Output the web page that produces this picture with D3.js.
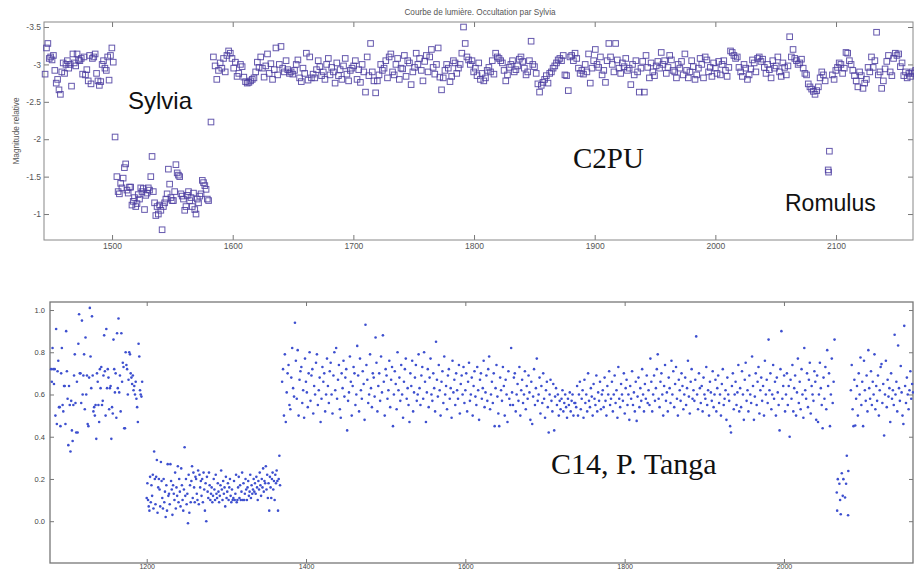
<!DOCTYPE html>
<html>
<head>
<meta charset="utf-8">
<script src="https://cdn.jsdelivr.net/npm/d3@7"></script>
<style>
  body { margin: 0; background: #fff; }
  svg { display: block; font-family: "Liberation Sans", Arial, sans-serif; }
</style>
</head>
<body>
<div id="chart"></div>
<script>
// ---- C2PU light curve (relative magnitude), frame numbers ----
var topTicksX = [1500, 1600, 1700, 1800, 1900, 2000, 2100];
var topTicksY = [-3.5, -3, -2.5, -2, -1.5, -1];

// before the occultation, frames 1444.5 .. 1501
var topMagA = [-2.87,-3.22,-3.28,-3.08,-3.1,-3.06,-3.12,-2.92,-2.75,-2.8,
  -2.66,-2.6,-2.9,-3.02,-2.88,-3.0,-3.05,-2.95,-3.0,-2.71,
  -3.14,-3.02,-2.98,-3.14,-3.06,-3.05,-3.08,-2.87,-3.1,-2.86,
  -2.93,-2.78,-3.12,-2.74,-3.08,-3.1,-3.14,-2.88,-2.78,-2.72,
  -2.77,-3.0,-3.05,-2.95,-2.92,-3.1,-2.79,-3.12,-3.22,-3.03];
// Sylvia occultation, frames 1504 .. 1580
var topMagB = [-1.5,-1.3,-1.27,-1.41,-1.35,-1.48,-1.62,-1.67,-1.32,-1.28,
  -1.36,-1.36,-1.12,-1.17,-1.22,-1.1,-1.14,-1.26,-1.2,-1.35,
  -1.3,-1.34,-1.06,-1.25,-1.28,-1.35,-1.32,-1.5,-1.77,-1.3,
  -1.15,-0.98,-1.1,-1.0,-1.12,-1.05,-0.79,-1.1,-1.15,-1.2,
  -1.27,-1.6,-1.4,-1.22,-1.18,-1.18,-1.3,-1.66,-1.55,-1.52,
  -1.5,-1.27,-1.24,-1.2,-1.05,-1.1,-1.25,-1.3,-1.18,-1.22,
  -1.1,-1.28,-1.06,-1.0,-1.2,-1.15,-1.24,-1.27,-1.45,-1.42,
  -1.38,-1.33,-1.2,-1.18];
// after the occultation, frames 1584 .. 2091
var topMagC = [
  -3.1,-2.98,-2.8,-2.92,-3.02,-2.95,-3.08,-2.9,-3.12,-3.18,-3.15,-3.08,-2.95,-3.03,-2.84,-2.88,-3.0,-2.97,-2.83,-2.77,
  -2.75,-2.76,-2.78,-2.8,-2.82,-2.9,-3.03,-2.96,-3.1,-2.95,-2.83,-2.98,-3.14,-2.88,-3.01,-2.8,-2.93,-3.22,-2.86,-3.0,
  -3.24,-2.95,-2.9,-3.05,-2.93,-2.88,-2.9,-2.87,-2.92,-3.0,-3.06,-2.82,-2.77,-2.95,-2.88,-3.15,-2.79,-3.1,-2.82,-2.87,
  -2.82,-2.93,-3.05,-2.97,-2.85,-2.9,-2.8,-3.0,-3.08,-2.86,-2.96,-2.9,-2.75,-3.02,-2.85,-2.93,-2.8,-2.98,-3.08,-2.87,-2.78,-2.92,-2.95,
  -2.98,-3.05,-2.8,-2.93,-2.76,-3.0,-2.9,-2.63,-3.1,-2.85,-3.28,-2.9,-2.78,-2.62,-2.78,-2.86,-3.0,-2.92,-2.95,-3.05,
  -2.82,-3.1,-3.14,-2.9,-2.86,-3.0,-3.08,-2.8,-2.95,-2.94,-3.12,-2.84,-3.05,-3.02,-2.73,-2.9,-2.96,-3.15,-3.0,-3.08,-2.92,-2.78,-3.04,
  -3.12,-2.9,-3.1,-3.2,-2.96,-2.87,-3.0,-3.22,-2.83,-2.66,-2.82,-2.92,-3.0,-2.95,-2.77,-2.84,-3.05,-3.02,-2.88,-2.95,
  -3.0,-3.15,-3.5,-3.28,-3.1,-3.06,-3.0,-3.05,-2.9,-2.95,-2.85,-3.02,-2.8,-2.88,-2.78,-2.82,-2.92,-2.96,-2.9,-3.05,-2.87,-3.15,-3.1,
  -3.08,-3.05,-3.02,-2.92,-2.78,-2.86,-2.96,-3.0,-3.05,-2.9,-2.93,-2.98,-3.07,-3.1,-3.04,-2.95,-2.86,-2.9,-3.05,-3.31,
  -3.0,-2.97,-2.88,-2.74,-2.63,-2.72,-2.76,-2.8,-2.85,-2.75,-2.88,-2.9,-2.95,-2.98,-3.02,-3.06,-3.08,-3.05,-3.12,-2.86,-2.85,-2.65,-3.1,
  -3.12,-3.05,-3.15,-3.08,-2.95,-2.88,-2.92,-2.87,-3.0,-2.9,-3.14,-2.75,-2.95,-3.05,-3.2,-3.0,-2.96,-3.1,-2.86,-2.92,
  -2.76,-3.05,-3.28,-3.1,-3.0,-2.9,-3.28,-3.06,-2.95,-2.88,-3.02,-2.97,-3.08,-2.92,-2.95,-2.73,-3.0,-2.86,-3.05,-2.9,-2.63,-2.95,-3.04,
  -2.63,-3.12,-2.96,-2.82,-3.02,-2.9,-2.85,-2.98,-3.04,-2.95,-3.16,-3.0,-3.05,-2.88,-2.96,-3.12,-3.06,-2.92,-2.9,-2.82,
  -3.0,-2.95,-3.04,-2.86,-3.14,-2.92,-2.82,-2.9,-3.05,-2.97,-2.8,-2.86,-2.95,-3.08,-3.0,-2.82,-3.1,-3.06,-2.9,-2.96,-2.84,-3.02,-2.95,
  -2.88,-3.04,-2.86,-3.0,-3.05,-2.92,-2.84,-2.96,-3.18,-3.16,-3.12,-3.08,-3.1,-2.96,-2.9,-2.84,-3.0,-2.95,-2.8,-2.86,
  -2.94,-3.06,-3.02,-2.9,-3.08,-3.1,-3.04,-3.07,-2.96,-2.88,-3.0,-2.93,-2.82,-3.05,-2.95,-2.98,-3.1,-2.9,-2.84,-3.02,-2.96,-2.86,-2.98,
  -3.37,-3.1,-3.2,-3.08,-3.05,-3.0,-3.02,-3.07,-2.95,-2.88,-2.86,-2.74,-2.7,-2.67,-2.64,-2.6,-2.65,-2.7,-2.82,-2.9,-2.86,-2.78];
// after Romulus, frames 2097 .. 2166
var topMagD = [-2.86,-2.8,-2.92,-2.96,-3.02,-3.0,-2.88,-2.95,-3.16,-3.15,
  -3.05,-3.0,-2.92,-2.85,-2.78,-2.7,-2.9,-2.85,-2.68,-2.75,
  -2.8,-2.96,-2.9,-3.1,-2.96,-3.05,-3.43,-2.86,-2.9,-2.68,
  -2.78,-2.94,-3.04,-3.12,-2.9,-2.85,-3.08,-3.15,-3.12,-3.14,
  -2.97,-3.02,-2.85,-2.9,-2.82,-2.88,-2.84,-2.9,-2.88,-2.92];
// single frames: ingress/egress of Sylvia and the Romulus event
var topSingleFrames = [1502.5, 1582, 2094.5, 2093.5, 2093.8];
var topSingleMag    = [-2.03, -2.23, -1.84, -1.59, -1.56];

// ---- C14, P. Tanga light curve (normalised flux) ----
var botTicksX = [1200, 1400, 1600, 1800, 2000];
var botTicksY = [0.0, 0.2, 0.4, 0.6, 0.8, 1.0];

// frames 1080 .. 1194
var botFluxPre = [.72,.66,.82,.72,.65,.72,.5,.91,.46,.71,
  .76,.54,.54,.45,.7,.82,.55,.52,.64,.64, .46,.9,.71,.58,.36,.64,.55,.33,.57,.43,
  .38,.55,.69,.79,.56,.42,.66,.42,.84,.98, .7,.7,.56,.95,.6,.69,.79,.53,.87,.6,
  .69,.46,.45,.68,1.01,.78,.63,.97,.69,.52, .54,.5,.55,.39,.7,.66,.55,.47,.72,.63,
  .73,.55,.57,.69,.88,.71,.5,.91,.63,.72, .68,.53,.63,.64,.39,.54,.51,.86,.72,.61,
  .7,.49,.89,.63,.96,.61,.69,.52,.89,.66, .75,.73,.44,.44,.8,.74,.72,.6,.67,.8,
  .79,.7,.68,.65,.69,.62,.64,.6,.66,.58, .54,.47,.84,.78,.62,.6,.59,.66];
// Sylvia occultation, frames 1200 .. 1367
var botFluxDip = [.11,.18,.1,.07,.05,.21,.09,.17,.12,.22,
  .06,.33,.2,.08,.21,.29,.04,.16,.2,.15, .07,.28,.19,.11,.06,.2,.09,.14,.02,.17,
  .05,.27,.12,.13,.08,.27,.19,.15,.03,.17, .13,.1,.23,.06,.16,.12,.26,.09,.2,.14,
  .07,.25,.17,.1,.05,.15,.35,.12,.2,.08, .13,-.01,.22,.04,.17,.09,.19,.26,.11,.23,
  .16,.09,.21,.2,.13,.1,.24,.08,.22,.16, .19,.12,.2,.09,.23,.15,.05,.18,.0,.21,
  .14,.11,.23,.17,.1,.13,.16,.09,.12,.2, .15,.1,.22,.13,.11,.18,.14,.09,.12,.17,
  .24,.15,.1,.19,.13,.16,.07,.21,.11,.14, .18,.1,.16,.2,.12,.09,.15,.1,.11,.19,
  .1,.13,.22,.09,.1,.16,.21,.11,.17,.1, .14,.23,.1,.18,.1,.13,.2,.15,.1,.16,
  .19,.12,.14,.22,.11,.17,.13,.15,.2,.14, .18,.13,.21,.16,.1,.19,.15,.23,.17,.12,
  .2,.16,.25,.14,.19,.18,.26,.15,.22,.11, .18,.05,.21,.16,.11,.2,.23,.15,.19,.1,
  .22,.18,.24,.19,.05,.2,.31,.17];
// frames 1370 .. 2063
var botFluxBand = [
  .66,.72,.5,.79,.47,.61,.7,.74,.55,.53, .68,.82,.63,.59,.94,.76,.58,.81,.5,.67,
  .71,.73,.56,.62,.49,.77,.66,.61,.54,.7, .8,.57,.69,.72,.51,.64,.6,.75,.79,.55,
  .62,.68,.47,.58,.73,.66,.7,.52,.6,.77, .64,.56,.71,.75,.6,.51,.69,.8,.62,.82,
  .58,.67,.74,.53,.49,.7,.63,.76,.59,.68, .72,.43,.57,.61,.78,.66,.5,.64,.73,.7,
  .55,.6,.83,.69,.52,.77,.62,.58,.71,.65, .48,.93,.74,.67,.56,.6,.79,.63,.54,.7,
  .68,.59,.87,.75,.52,.64,.7,.57,.78,.61, .88,.66,.5,.72,.69,.58,.62,.76,.54,.67,
  .73,.45,.6,.71,.65,.53,.8,.62,.68,.57, .74,.6,.49,.66,.72,.77,.58,.63,.55,.47,
  .7,.64,.76,.52,.61,.68,.74,.57,.6,.79, .63,.55,.69,.73,.58,.8,.66,.47,.61,.72,
  .54,.68,.77,.6,.57,.7,.63,.52,.85,.67, .59,.74,.62,.5,.66,.71,.56,.78,.6,.64,
  .53,.69,.72,.58,.63,.49,.76,.61,.67,.55, .7,.62,.58,.74,.51,.65,.69,.6,.73,.56,
  .62,.7,.52,.66,.75,.57,.6,.68,.5,.64, .71,.59,.55,.73,.62,.48,.67,.7,.58,.63,
  .76,.54,.61,.69,.57,.72,.78,.53,.6,.66, .56,.7,.45,.63,.74,.59,.51,.45,.68,.62,
  .57,.73,.64,.5,.67,.6,.47,.71,.58,.55, .82,.61,.55,.68,.7,.52,.6,.65,.57,.73,
  .5,.62,.67,.56,.6,.71,.53,.64,.58,.69, .61,.48,.66,.46,.59,.72,.55,.63,.77,.57,
  .6,.68,.51,.64,.56,.7,.58,.49,.62,.66, .54,.42,.6,.67,.57,.52,.65,.43,.59,.63,
  .55,.6,.5,.57,.53,.58,.62,.52,.56,.6, .54,.49,.58,.55,.61,.52,.57,.6,.5,.56,
  .56,.54,.64,.5,.6,.66,.53,.58,.62,.49, .67,.56,.6,.52,.7,.57,.54,.63,.59,.5,
  .65,.58,.55,.69,.52,.61,.57,.66,.53,.6, .62,.54,.68,.57,.5,.64,.6,.71,.55,.58,
  .66,.52,.6,.69,.56,.62,.49,.73,.58,.54, .65,.6,.57,.7,.51,.63,.67,.55,.6,.48,
  .64,.58,.71,.55,.61,.52,.66,.475,.59,.68, .54,.63,.57,.72,.6,.52,.65,.58,.69,.56,
  .62,.55,.77,.66,.52,.6,.69,.57,.63,.72, .79,.58,.54,.66,.7,.6,.5,.64,.74,.57,
  .61,.52,.68,.63,.56,.76,.6,.71,.54,.65, .73,.58,.5,.67,.62,.57,.7,.64,.53,.6,
  .68,.55,.63,.76,.59,.51,.66,.72,.58,.62, .57,.67,.875,.6,.53,.7,.63,.56,.64,.52,
  .68,.6,.58,.73,.55,.62,.5,.66,.61,.57, .71,.54,.6,.67,.52,.63,.69,.56,.6,.5,
  .65,.72,.55,.58,.62,.48,.68,.6,.57,.45, .42,.64,.7,.53,.6,.66,.55,.61,.74,.52,
  .63,.54,.71,.6,.48,.67,.75,.57,.62,.52, .69,.6,.56,.78,.64,.48,.59,.7,.55,.66,
  .73,.51,.62,.68,.57,.64,.5,.76,.6,.67, .56,.86,.62,.7,.53,.6,.74,.58,.66,.5,
  .68,.61,.55,.43,.72,.9,.58,.64,.69,.52, .6,.7,.55,.64,.4,.67,.58,.74,.52,.63,
  .69,.5,.61,.77,.56,.66,.53,.72,.6,.49, .82,.62,.58,.7,.54,.67,.75,.51,.64,.6,
  .57,.71,.66,.48,.69,.47,.6,.75,.63,.55, .44,.68,.58,.73,.53,.81,.64,.7,.45,.6,
  .77,.56,.66,.86];
// Romulus event
var botRomFrames = [2066.3,2066.8,2067.6,2069.6,2070.5,2071.3,2072.6,2073.8,2074.6,2076.7,2078.0,2078.9,2080.8,2080.5];
var botRomFlux   = [.136,.05,.199,.177,.10,.033,.227,.12,.199,.112,.177,.31,.238,.028];
// frames 2084 .. 2162
var botFluxEnd = [.62,.74,.53,.45,.67,.453,.58,.64,.5,.7,
  .6,.775,.55,.66,.45,.76,.62,.57,.69,.52, .81,.63,.58,.71,.55,.66,.6,.79,.53,.64,
  .57,.69,.5,.62,.73,.744,.56,.65,.406,.6, .76,.54,.67,.59,.63,.47,.7,.58,.62,.55,
  .883,.6,.66,.52,.832,.63,.57,.735,.61,.5, .46,.925,.64,.56,.68,.6,.53,.62,.71,.58,
  .65,.61];

// spread a run of samples over its frame range
function run(first, last, vals) {
  return vals.map(function (v, i) {
    return { f: first + i * (last - first) / (vals.length - 1), v: v };
  });
}

var topPoints = [].concat(
  run(1444.5, 1501, topMagA),
  run(1504, 1580, topMagB),
  run(1584, 2091, topMagC),
  run(2097, 2166, topMagD),
  topSingleFrames.map(function (f, i) { return { f: f, v: topSingleMag[i] }; })
);
var botPoints = [].concat(
  run(1080, 1194.3, botFluxPre),
  run(1200, 1367.4, botFluxDip),
  run(1370, 2063.5, botFluxBand),
  botRomFrames.map(function (f, i) { return { f: f, v: botRomFlux[i] }; }),
  run(2084, 2162, botFluxEnd)
);

var svg = d3.select("#chart").append("svg").attr("width", 914).attr("height", 571);

// ================= top panel (MATLAB style) =================
var xTop = d3.scaleLinear().domain([1443.6, 2163.8]).range([44, 913]);
var yTop = d3.scaleLinear().domain([-3.567, -0.653]).range([22, 240]);

function styleAxis(g, size, color) {
  g.attr("font-family", "'Liberation Sans', Arial, sans-serif").attr("font-size", size);
  g.select(".domain").remove();
  g.selectAll("line").attr("stroke", "#777");
  g.selectAll("text").attr("fill", color);
}

svg.append("g").attr("transform", "translate(0,240)")
  .call(d3.axisBottom(xTop).tickValues(topTicksX).tickSize(-5).tickPadding(3).tickFormat(d3.format("d")))
  .call(styleAxis, 8.5, "#555");
svg.append("g").attr("transform", "translate(0,22)")
  .call(d3.axisTop(xTop).tickValues(topTicksX).tickSize(-5).tickFormat(""))
  .call(styleAxis, 8.5, "#555");
svg.append("g").attr("transform", "translate(44,0)")
  .call(d3.axisLeft(yTop).tickValues(topTicksY).tickSize(-5).tickPadding(3).tickFormat(function (d) { return String(d); }))
  .call(styleAxis, 8.5, "#555");
svg.append("g").attr("transform", "translate(913,0)")
  .call(d3.axisRight(yTop).tickValues(topTicksY).tickSize(-5).tickFormat(""))
  .call(styleAxis, 8.5, "#555");

svg.append("rect").attr("x", 44).attr("y", 22).attr("width", 869).attr("height", 218)
  .attr("fill", "none").attr("stroke", "#888").attr("stroke-width", 1);

svg.append("g").selectAll("rect").data(topPoints).join("rect")
  .attr("x", function (d) { return xTop(d.f) - 2.8; })
  .attr("y", function (d) { return yTop(d.v) - 2.8; })
  .attr("width", 5.6).attr("height", 5.6)
  .attr("fill", "none").attr("stroke", "#4a3b9f").attr("stroke-width", 1).attr("stroke-opacity", 0.85);

svg.append("text").attr("x", 480).attr("y", 15).attr("text-anchor", "middle")
  .attr("font-size", 8.2).attr("fill", "#555").text("Courbe de lumière. Occultation par Sylvia");
svg.append("text").attr("transform", "translate(19,131) rotate(-90)").attr("text-anchor", "middle")
  .attr("font-size", 8.2).attr("fill", "#555").text("Magnitude relative");

svg.append("text").attr("x", 128).attr("y", 109).attr("font-size", 24).attr("fill", "#111").text("Sylvia");
svg.append("text").attr("x", 785).attr("y", 211).attr("font-size", 23).attr("fill", "#111").text("Romulus");
svg.append("text").attr("x", 573).attr("y", 168).attr("font-size", 29)
  .attr("font-family", "'Liberation Serif', 'Times New Roman', serif").attr("fill", "#111").text("C2PU");

// ================= bottom panel (matplotlib style) =================
var xBot = d3.scaleLinear().domain([1078.6, 2162]).range([50, 913]);
var yBot = d3.scaleLinear().domain([-0.198, 1.038]).range([563, 302]);

svg.append("g").attr("transform", "translate(0,563)")
  .call(d3.axisBottom(xBot).tickValues(botTicksX).tickSize(-4).tickPadding(1.5).tickFormat(d3.format("d")))
  .call(styleAxis, 7, "#444");
svg.append("g").attr("transform", "translate(0,302)")
  .call(d3.axisTop(xBot).tickValues(botTicksX).tickSize(-4).tickFormat(""))
  .call(styleAxis, 7, "#444");
svg.append("g").attr("transform", "translate(50,0)")
  .call(d3.axisLeft(yBot).tickValues(botTicksY).tickSize(-4).tickPadding(5).tickFormat(function (d) { return d.toFixed(1); }))
  .call(styleAxis, 7.5, "#444");
svg.append("g").attr("transform", "translate(913,0)")
  .call(d3.axisRight(yBot).tickValues(botTicksY).tickSize(-4).tickFormat(""))
  .call(styleAxis, 7.5, "#444");

svg.append("rect").attr("x", 50).attr("y", 302).attr("width", 863).attr("height", 261)
  .attr("fill", "none").attr("stroke", "#777").attr("stroke-width", 1.3);

svg.append("g").selectAll("circle").data(botPoints).join("circle")
  .attr("cx", function (d) { return xBot(d.f); })
  .attr("cy", function (d) { return yBot(d.v); })
  .attr("r", 1.3).attr("fill", "#3d4fcf");

svg.append("text").attr("x", 551).attr("y", 474).attr("font-size", 30)
  .attr("font-family", "'Liberation Serif', 'Times New Roman', serif").attr("fill", "#111").text("C14, P. Tanga");
</script>
</body>
</html>
